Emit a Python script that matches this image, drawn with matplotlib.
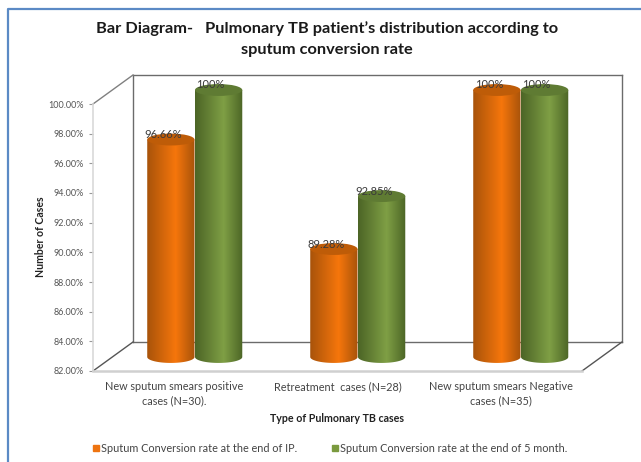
import numpy as np
import matplotlib
matplotlib.use("Agg")
import matplotlib.pyplot as plt
from matplotlib.colors import LinearSegmentedColormap
from matplotlib.lines import Line2D
from matplotlib.patches import Ellipse, PathPatch
from matplotlib.path import Path

plt.rcParams["font.family"] = ["Lato", "DejaVu Sans"]

categories = ["New sputum smears positive\ncases (N=30).",
              "Retreatment  cases (N=28)",
              "New sputum smears Negative\ncases (N=35)"]
ip_values = [96.66, 89.28, 100]
month5_values = [100, 92.85, 100]
ip_labels = ["96.66%", "89.28%", "100%"]
month5_labels = ["100%", "92.85%", "100%"]
y_ticks = [82, 84, 86, 88, 90, 92, 94, 96, 98, 100]

W, H = 641, 462
Y_MIN, Y_MAX = 82, 100
BAR_W = 0.29
CAP_H = 0.8


def box(left, top, right, bottom):
    return [left / W, 1 - bottom / H, (right - left) / W, (bottom - top) / H]


def fig_line(xs, ys, **kw):
    fig.add_artist(Line2D([x / W for x in xs], [1 - y / H for y in ys], **kw))


def cylinder(ax, x, value, edge, mid, cap, text, z):
    left, right = x - BAR_W / 2, x + BAR_W / 2
    t = np.linspace(np.pi, 2 * np.pi, 40)
    xs = x + BAR_W / 2 * np.cos(t)
    ys = Y_MIN + CAP_H / 2 * np.sin(t)
    verts = [(left, value)] + list(zip(xs, ys)) + [(right, value), (left, value)]
    shape = PathPatch(Path(verts), transform=ax.transData, fc="none", ec="none")
    ax.add_patch(shape)
    cmap = LinearSegmentedColormap.from_list("c", [(0, edge), (0.6, mid), (1, edge)])
    im = ax.imshow(np.linspace(0, 1, 128).reshape(1, -1), cmap=cmap, aspect="auto",
                   extent=[left, right, Y_MIN - CAP_H / 2, value], zorder=z)
    im.set_clip_box(fig.bbox)
    im.set_clip_path(shape)
    ax.add_patch(Ellipse((x, value), BAR_W, CAP_H, fc=cap, ec="none", zorder=z, clip_on=False))
    ax.annotate(text, (x, value), xytext=(-8, 5), textcoords="offset pixels",
                ha="center", va="center", fontsize=8, color="#3a3a3a", zorder=10)


fig = plt.figure(figsize=(W / 100, H / 100), dpi=100, facecolor="white")

# picture frame
fig_line([8, 8, W], [H, 9, 9], color="#5B8AC5", lw=1.6)

# back wall
wall = fig.add_axes(box(133, 75, 622, 342), zorder=1)
wall.set_xticks([])
wall.set_yticks([])
for s in wall.spines.values():
    s.set_color("#6b6b6b")
    s.set_linewidth(1.0)

# floor and depth edges
fig_line([93, 133], [371, 342], color="#555555", lw=1.0, zorder=2)
fig_line([582, 622], [371, 342], color="#555555", lw=1.0, zorder=2)
fig_line([93, 133], [104, 75], color="#808080", lw=1.0, zorder=2)

# front plane carries the axis scale and labels
ax = fig.add_axes(box(93, 104, 582, 371), zorder=3)
ax.patch.set_alpha(0)
ax.set_xlim(-0.5, 2.5)
ax.set_ylim(Y_MIN, Y_MAX)
ax.set_yticks(y_ticks)
ax.set_yticklabels([f"{v:.2f}%" for v in y_ticks], fontsize=6.5, color="#555555")
ax.set_xticks(range(3))
ax.set_xticklabels(categories, fontsize=7.8, color="#444444", linespacing=1.35)
ax.tick_params(axis="y", length=3, color="#999999", width=0.8, pad=4)
ax.tick_params(axis="x", length=0, pad=7.5)
for name in ["top", "right"]:
    ax.spines[name].set_visible(False)
ax.spines["left"].set_color("#d9d9d9")
ax.spines["left"].set_linewidth(1.2)
ax.spines["bottom"].set_color("#d0d0d0")
ax.spines["bottom"].set_linewidth(1.8)

# bars sit half way into the depth
bar_ax = fig.add_axes(box(113, 90, 602, 357), zorder=4)
bar_ax.patch.set_alpha(0)
bar_ax.axis("off")
for i in range(3):
    cylinder(bar_ax, i - 0.145, ip_values[i], "#A8530A", "#F6760C", "#BE5C08", ip_labels[i], 3 + i)
    cylinder(bar_ax, i + 0.148, month5_values[i], "#4C6526", "#7F9F45", "#5F7B33", month5_labels[i], 3.5 + i)
bar_ax.set_xlim(-0.5, 2.5)
bar_ax.set_ylim(Y_MIN, Y_MAX)

fig.text(327 / W, 1 - 29 / H, "Bar Diagram-   Pulmonary TB patient\u2019s distribution according to",
         ha="center", va="center", fontsize=11.8, fontweight="bold", color="#1a1a1a")
fig.text(327 / W, 1 - 50 / H, "sputum conversion rate",
         ha="center", va="center", fontsize=11.8, fontweight="bold", color="#1a1a1a")
fig.text(41 / W, 1 - 237 / H, "Number of Cases", rotation=90, ha="center", va="center",
         fontsize=7.6, fontweight="bold", color="#222222")
fig.text(337 / W, 1 - 418 / H, "Type of Pulmonary TB cases", ha="center", va="center",
         fontsize=7.7, fontweight="bold", color="#222222")

leg_handles = [Line2D([], [], ls="none", marker="s", ms=5, color="#EE7410"),
               Line2D([], [], ls="none", marker="s", ms=5, color="#7A9A3E")]
fig.legend(leg_handles, ["Sputum Conversion rate at the end of IP.",
                         "Sputum Conversion rate at the end of 5 month."],
           loc="center left", bbox_to_anchor=(85 / W, 1 - 448 / H), ncol=2, frameon=False,
           fontsize=7.8, labelcolor="#444444", handletextpad=-0.53, columnspacing=2.47,
           borderaxespad=0, borderpad=0)

fig.savefig("out.png", dpi=100)
